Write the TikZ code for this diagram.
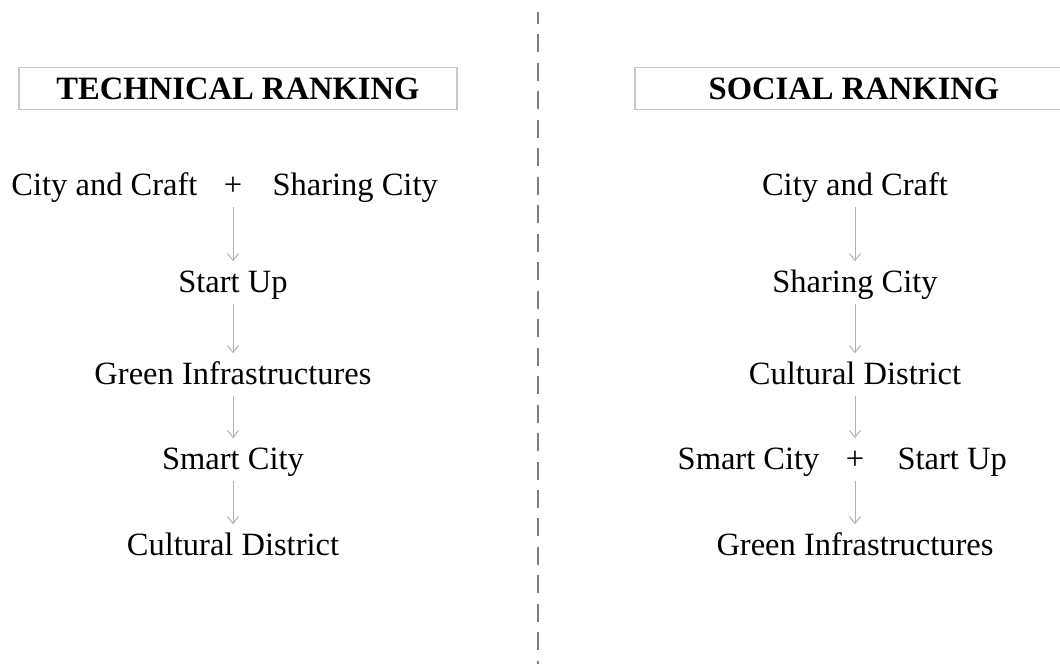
\documentclass[tikz,border=0pt]{standalone}
\usepackage{fontspec}
\setmainfont{Liberation Serif}
\usetikzlibrary{positioning,arrows.meta}

\begin{document}
\begin{tikzpicture}[x=1pt,y=-1pt]
      \useasboundingbox(0,0) rectangle (1060,664);
      \tikzset{T/.style = {shape=rectangle, draw=black!22, line width=1.2pt, minimum width=438pt, minimum height=42pt, inner sep=0pt, font=\fontsize{32.6}{38}\selectfont\bfseries}}
      \tikzset{V/.style = {inner sep=0pt, text height=21pt, text depth=0pt, font=\fontsize{32.5}{38}\selectfont}}
      \tikzset{E/.style = {draw=black!30, line width=1pt, -{Straight Barb[length=7pt,width=11pt]}, shorten <=11pt, shorten >=10pt}}
      \tikzset{node distance=27pt}
      \node[T](tech) at (238,88.5) {TECHNICAL RANKING};
      \node[T](soc) at (854,88.5) {SOCIAL RANKING};
      \coordinate (top) at (538,12);
      \coordinate (bot) at (538,664);
      \draw[black!50, line width=1.4pt, dash pattern=on 18pt off 10.47pt, dash phase=6pt] (top) -- (bot);
      % technical
      \node[V](p1) at (233,185) {+};
      \node[V,left=26pt of p1](lc1) {City and Craft};
      \node[V,right=30pt of p1](ls1) {Sharing City};
      \node[V](l2) at (233,282) {Start Up};
      \node[V](l3) at (233,374) {Green Infrastructures};
      \node[V](l4) at (233,459) {Smart City};
      \node[V](l5) at (233,545) {Cultural District};
      % social
      \node[V](r1) at (855,185) {City and Craft};
      \node[V](r2) at (855,282) {Sharing City};
      \node[V](r3) at (855,374) {Cultural District};
      \node[V](p4) at (855,459) {+};
      \node[V,left=26pt of p4](rs4) {Smart City};
      \node[V,right=33pt of p4](ru4) {Start Up};
      \node[V](r5) at (855,545) {Green Infrastructures};
      \draw[E](p1) to (l2);
      \draw[E](l2) to (l3);
      \draw[E](l3) to (l4);
      \draw[E](l4) to (l5);
      \draw[E](r1) to (r2);
      \draw[E](r2) to (r3);
      \draw[E](r3) to (p4);
      \draw[E](p4) to (r5);
\end{tikzpicture}
\end{document}
